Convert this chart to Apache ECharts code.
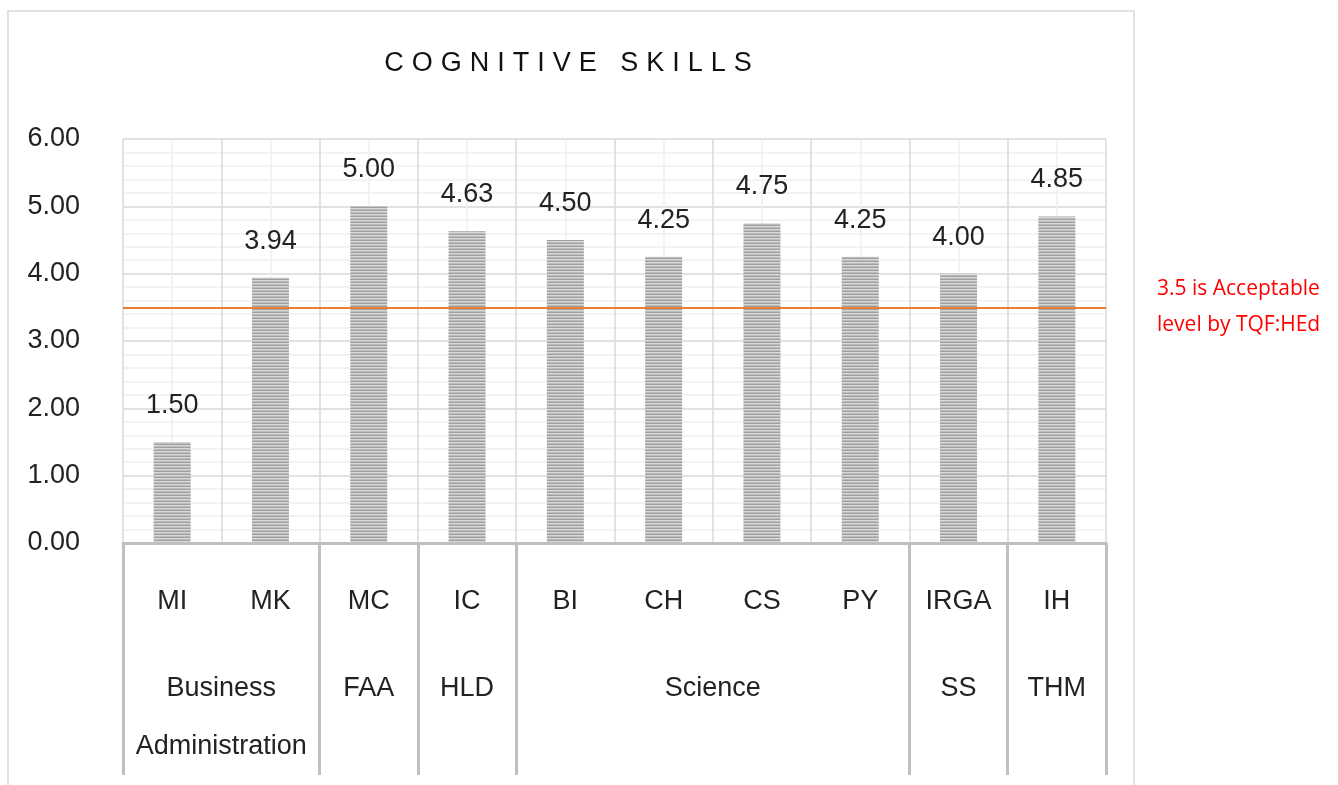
<!DOCTYPE html>
<html>
<head>
<meta charset="utf-8">
<script src="https://cdn.jsdelivr.net/npm/echarts@6/dist/echarts.min.js"></script>
<style>
  html, body { margin: 0; padding: 0; background: #fff; }
  #main { width: 1338px; height: 785px; }
</style>
</head>
<body>
<div id="main"></div>
<script>
// data
var programs = ['MI', 'MK', 'MC', 'IC', 'BI', 'CH', 'CS', 'PY', 'IRGA', 'IH'];
var scores = [1.50, 3.94, 5.00, 4.63, 4.50, 4.25, 4.75, 4.25, 4.00, 4.85];
var faculties = ['Business\nAdministration', 'FAA', 'HLD', 'Science', 'SS', 'THM'];
var facultyStart = [0, 2, 3, 4, 8, 9];   // index of first program in each faculty
var facultySize = [2, 1, 1, 4, 1, 1];
var acceptable = 3.5;
var chartTitle = 'COGNITIVE SKILLS';

// label positions for faculties = middle of their span
var facultyMid = facultyStart.map(function (s, i) { return s + facultySize[i] / 2; });

// striped fill like the excel pattern
function stripes() {
    var c = document.createElement('canvas');
    c.width = 4; c.height = 3;
    var ctx = c.getContext('2d');
    ctx.fillStyle = '#a0a0a0'; ctx.fillRect(0, 0, 4, 1);
    ctx.fillStyle = '#d8d8d8'; ctx.fillRect(0, 1, 4, 1);
    ctx.fillStyle = '#bcbcbc'; ctx.fillRect(0, 2, 4, 1);
    return c;
}

// spaced out title letters (zrender has no letter-spacing)
var spacedTitle = chartTitle.split('').map(function (ch, i, a) {
    return '{' + (i < a.length - 1 ? 's' : 'e') + '|' + ch + '}';
}).join('');

var chart = echarts.init(document.getElementById('main'));
var font = 'Liberation Sans, Arial, sans-serif';

var option = {
    animation: false,
    title: {
        text: spacedTitle,
        left: 563,
        textAlign: 'center',
        top: 45,
        textStyle: {
            fontFamily: font, fontSize: 27, fontWeight: 'normal', color: '#111',
            rich: {
                s: { fontFamily: font, fontSize: 27, fontWeight: 'normal', color: '#111', padding: [0, 8, 0, 0] },
                e: { fontFamily: font, fontSize: 27, fontWeight: 'normal', color: '#111' }
            }
        }
    },
    graphic: [{
        type: 'rect',
        shape: { x: 8, y: 11, width: 1126, height: 820 },
        style: { fill: 'none', stroke: '#d9d9d9', lineWidth: 1.5 },
        silent: true
    }],
    grid: { left: 123, right: 232, top: 139, bottom: 242 },
    xAxis: [{
        type: 'category',
        data: programs,
        position: 'bottom',
        axisLine: { lineStyle: { color: '#bfbfbf', width: 3 } },
        axisTick: {
            show: true,
            length: 232,
            interval: function (i) { return facultyStart.indexOf(i) >= 0; },
            lineStyle: { color: '#bfbfbf', width: 3 }
        },
        axisLabel: { fontFamily: font, fontSize: 27, color: '#222', margin: 45 },
        splitLine: { show: false },
        z: 5
    }, {
        type: 'value',
        min: 0,
        max: programs.length,
        interval: 1,
        position: 'bottom',
        axisLine: { show: false },
        axisTick: { show: false },
        minorTick: { show: false, splitNumber: 2 },
        splitLine: { show: true, lineStyle: { color: '#d9d9d9', width: 1.5 } },
        minorSplitLine: { show: true, lineStyle: { color: '#efefef', width: 1.5 } },
        axisLabel: {
            customValues: facultyMid,
            margin: 117,
            fontFamily: font, fontSize: 27, color: '#222', lineHeight: 58,
            formatter: function (v) {
                var i = facultyMid.indexOf(v);
                return i >= 0 ? faculties[i] : '';
            }
        }
    }],
    yAxis: {
        type: 'value',
        min: 0,
        max: 6,
        interval: 1,
        axisLine: { show: false },
        axisTick: { show: false },
        minorTick: { show: false, splitNumber: 5 },
        splitLine: { lineStyle: { color: '#d9d9d9', width: 1.5 } },
        minorSplitLine: { show: true, lineStyle: { color: '#efefef', width: 1.5 } },
        axisLabel: {
            fontFamily: font, fontSize: 27, color: '#222', margin: 43,
            formatter: function (v) { return v.toFixed(2); }
        }
    },
    series: [{
        type: 'bar',
        xAxisIndex: 0,
        data: scores,
        barWidth: 37,
        itemStyle: { color: { image: stripes(), repetition: 'repeat' } },
        label: {
            show: true,
            position: 'top',
            distance: 23,
            fontFamily: font, fontSize: 27, color: '#222',
            formatter: function (p) { return p.value.toFixed(2); }
        },
        markLine: {
            silent: true,
            symbol: 'none',
            data: [{ yAxis: acceptable }],
            lineStyle: { color: '#ed7d31', width: 2, type: 'solid' },
            label: {
                show: true,
                position: 'end',
                distance: 51,
                formatter: '3.5 is Acceptable\nlevel by TQF:HEd',
                fontFamily: 'Open Sans, sans-serif',
                fontSize: 21,
                lineHeight: 36,
                color: '#ff0000',
                align: 'left'
            }
        }
    }]
};

chart.setOption(option);
</script>
</body>
</html>
